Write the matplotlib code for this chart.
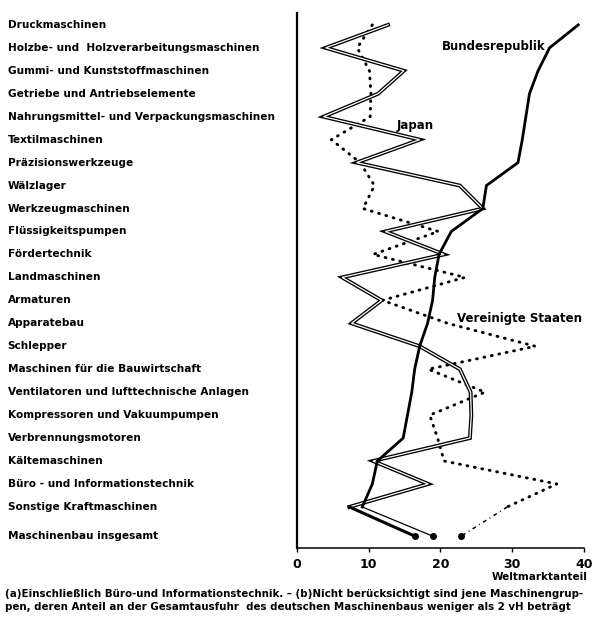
import matplotlib
matplotlib.use("Agg")
import matplotlib.pyplot as plt
import matplotlib.transforms as mtrans
import numpy as np

# ---- data -----------------------------------------------------------------
categories = [
    "Druckmaschinen",
    "Holzbe- und  Holzverarbeitungsmaschinen",
    "Gummi- und Kunststoffmaschinen",
    "Getriebe und Antriebselemente",
    "Nahrungsmittel- und Verpackungsmaschinen",
    "Textilmaschinen",
    "Präzisionswerkzeuge",
    "Wälzlager",
    "Werkzeugmaschinen",
    "Flüssigkeitspumpen",
    "Fördertechnik",
    "Landmaschinen",
    "Armaturen",
    "Apparatebau",
    "Schlepper",
    "Maschinen für die Bauwirtschaft",
    "Ventilatoren und lufttechnische Anlagen",
    "Kompressoren und Vakuumpumpen",
    "Verbrennungsmotoren",
    "Kältemaschinen",
    "Büro - und Informationstechnik",
    "Sonstige Kraftmaschinen",
]
total_label = "Maschinenbau insgesamt"

bundesrepublik = [39.2, 35.2, 33.6, 32.4, 31.9, 31.4, 30.8, 26.4, 25.9, 21.5, 19.8,
                  19.2, 18.9, 18.2, 17.1, 16.4, 16.0, 15.4, 14.8, 11.2, 10.5, 9.1]
japan = [12.7, 4.0, 14.9, 11.3, 3.7, 17.1, 8.3, 22.7, 25.9, 12.3, 20.5,
         6.3, 11.8, 7.6, 17.1, 22.7, 24.2, 24.3, 24.1, 10.6, 18.3, 7.3]
usa = [10.5, 8.4, 10.1, 10.3, 10.2, 4.8, 8.8, 10.8, 9.2, 19.7, 10.6,
       23.4, 11.9, 21.0, 33.2, 18.3, 26.2, 18.5, 19.6, 20.5, 36.2, 29.3]
total = {"Bundesrepublik": 18.9, "Japan": 16.4, "Vereinigte Staaten": 22.9}

xticks = [0, 10, 20, 30, 40]
footnote = ("(a)Einschließlich Büro-und Informationstechnik. – (b)Nicht berücksichtigt sind jene Maschinengrup-\n"
            "pen, deren Anteil an der Gesamtausfuhr  des deutschen Maschinenbaus weniger als 2 vH beträgt")

# ---- layout ---------------------------------------------------------------
plt.rcParams.update({"font.family": "DejaVu Sans", "text.color": "black"})
fig = plt.figure(figsize=(5.93, 6.17), dpi=100)
ax = fig.add_axes([0.5008, 0.1118, 0.484, 0.8672])

ys = np.arange(len(categories))
y_total = len(categories) + 0.27
ax.set_xlim(0, 40)
ax.set_ylim(22.79, -0.52)

# Bundesrepublik: heavy solid
ax.plot(bundesrepublik, ys, color="black", lw=2.0, solid_joinstyle="miter", zorder=4)
ax.plot([bundesrepublik[-1], total["Bundesrepublik"]], [ys[-1], y_total],
        color="black", lw=0.9, zorder=4)

# Japan: hollow double line
ax.plot(japan, ys, color="black", lw=2.8, solid_joinstyle="miter", zorder=3)
ax.plot(japan, ys, color="white", lw=0.9, solid_joinstyle="miter", zorder=3.1)
ax.plot([japan[-1], total["Japan"]], [ys[-1], y_total], color="black", lw=2.2, zorder=4)

# Vereinigte Staaten: dotted
ax.plot(usa, ys, color="black", lw=2.1, linestyle=(0, (0.3, 2.3)),
        dash_capstyle="round", zorder=2)
ax.plot([usa[-1], total["Vereinigte Staaten"]], [ys[-1], y_total], color="black",
        lw=1.1, linestyle=(0, (2.5, 2.5, 0.6, 2.5)), zorder=2)

ax.plot(list(total.values()), [y_total] * 3, "o", color="black", ms=4, zorder=5)

# series labels
ax.text(20.2, 0.95, "Bundesrepublik", fontsize=8.5, fontweight="bold", va="center")
ax.text(13.9, 4.4, "Japan", fontsize=8.5, fontweight="bold", va="center")
ax.text(22.3, 12.8, "Vereinigte Staaten", fontsize=8.5, fontweight="bold", va="center")

# category labels at the far left
trans = mtrans.blended_transform_factory(fig.transFigure, ax.transData)
for y, name in zip(ys, categories):
    ax.text(0.013, y, name, transform=trans, fontsize=7.6, fontweight="bold",
            va="center", ha="left")
ax.text(0.013, y_total, total_label, transform=trans, fontsize=7.6, fontweight="bold",
        va="center", ha="left")

# axes styling
for side in ["top", "right"]:
    ax.spines[side].set_visible(False)
ax.spines["left"].set_linewidth(1.6)
ax.spines["bottom"].set_linewidth(1.1)
ax.set_yticks([])
ax.set_xticks(xticks)
ax.set_xticklabels([str(t) for t in xticks], fontsize=9, fontweight="bold")
ax.tick_params(axis="x", length=3, width=1, direction="out", pad=4)
ax.patch.set_alpha(0)

fig.text(0.99, 0.065, "Weltmarktanteil", fontsize=7.5, fontweight="bold", ha="right", va="center")
fig.text(0.008, 0.027, footnote, fontsize=7.4, fontweight="bold", ha="left", va="center",
         linespacing=1.3)

fig.savefig("out.png", dpi=100)
